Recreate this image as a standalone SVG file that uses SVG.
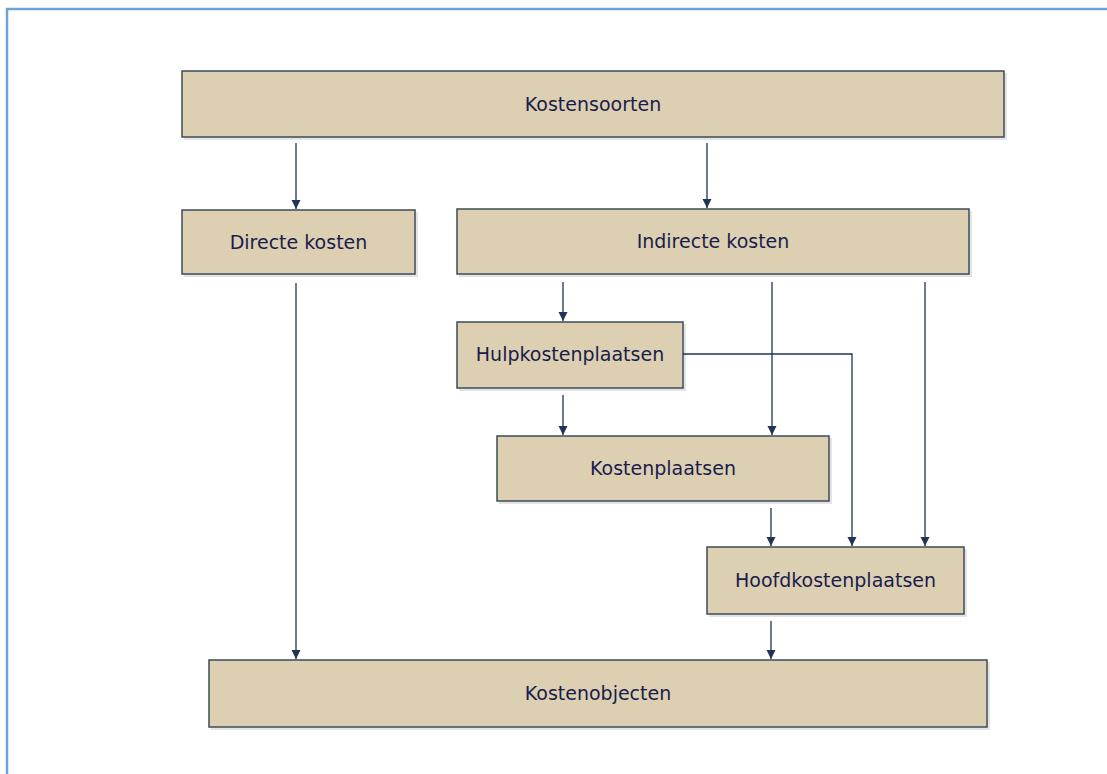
<svg xmlns="http://www.w3.org/2000/svg" width="1107" height="774" viewBox="0 0 1107 774">
<style>
.box{fill:#dccfb2;stroke:#3d4b58;stroke-width:1.5}
.shadow{fill:#e4e4e4}
.lbl{font-family:"DejaVu Sans",Verdana,sans-serif;font-size:19px;fill:#1a1d4c;text-anchor:middle}
.conn{fill:none;stroke:#1f3556;stroke-width:1.3}
</style>
<defs>
<marker id="arr" markerWidth="10" markerHeight="10" refX="9" refY="4.5" orient="auto" markerUnits="userSpaceOnUse">
<path d="M0,0 L9,4.5 L0,9 Z" fill="#1f3556"/>
</marker>
</defs>
<rect width="1107" height="774" fill="#ffffff"/>
<path d="M7,774 V9 H1107" fill="none" stroke="#6ea3dc" stroke-width="2.5"/>
<g id="kostensoorten">
<rect class="shadow" x="184" y="73" width="823" height="67"/>
<rect class="box" x="182" y="71" width="822" height="66"/>
<text class="lbl" x="593" y="111">Kostensoorten</text>
</g>
<g id="directe-kosten">
<rect class="shadow" x="184" y="212" width="234" height="65"/>
<rect class="box" x="182" y="210" width="233" height="64"/>
<text class="lbl" x="298.5" y="249">Directe kosten</text>
</g>
<g id="indirecte-kosten">
<rect class="shadow" x="459" y="211" width="513" height="66"/>
<rect class="box" x="457" y="209" width="512" height="65"/>
<text class="lbl" x="713" y="248">Indirecte kosten</text>
</g>
<g id="hulpkostenplaatsen">
<rect class="shadow" x="459" y="324" width="227" height="67"/>
<rect class="box" x="457" y="322" width="226" height="66"/>
<text class="lbl" x="570" y="361">Hulpkostenplaatsen</text>
</g>
<g id="kostenplaatsen">
<rect class="shadow" x="499" y="438" width="333" height="66"/>
<rect class="box" x="497" y="436" width="332" height="65"/>
<text class="lbl" x="663" y="475">Kostenplaatsen</text>
</g>
<g id="hoofdkostenplaatsen">
<rect class="shadow" x="709" y="549" width="258" height="68"/>
<rect class="box" x="707" y="547" width="257" height="67"/>
<text class="lbl" x="835.5" y="587">Hoofdkostenplaatsen</text>
</g>
<g id="kostenobjecten">
<rect class="shadow" x="211" y="662" width="779" height="68"/>
<rect class="box" x="209" y="660" width="778" height="67"/>
<text class="lbl" x="598" y="700">Kostenobjecten</text>
</g>
<g id="connectors">
<path class="conn" d="M296,143 V209" marker-end="url(#arr)"/>
<path class="conn" d="M707,143 V208" marker-end="url(#arr)"/>
<path class="conn" d="M296,283 V659" marker-end="url(#arr)"/>
<path class="conn" d="M563,282 V321" marker-end="url(#arr)"/>
<path class="conn" d="M772,282 V435" marker-end="url(#arr)"/>
<path class="conn" d="M925,282 V546" marker-end="url(#arr)"/>
<path class="conn" d="M563,395 V435" marker-end="url(#arr)"/>
<path class="conn" d="M683,354 H852 V546" marker-end="url(#arr)"/>
<path class="conn" d="M771,508 V546" marker-end="url(#arr)"/>
<path class="conn" d="M771,621 V659" marker-end="url(#arr)"/>
</g>
</svg>
